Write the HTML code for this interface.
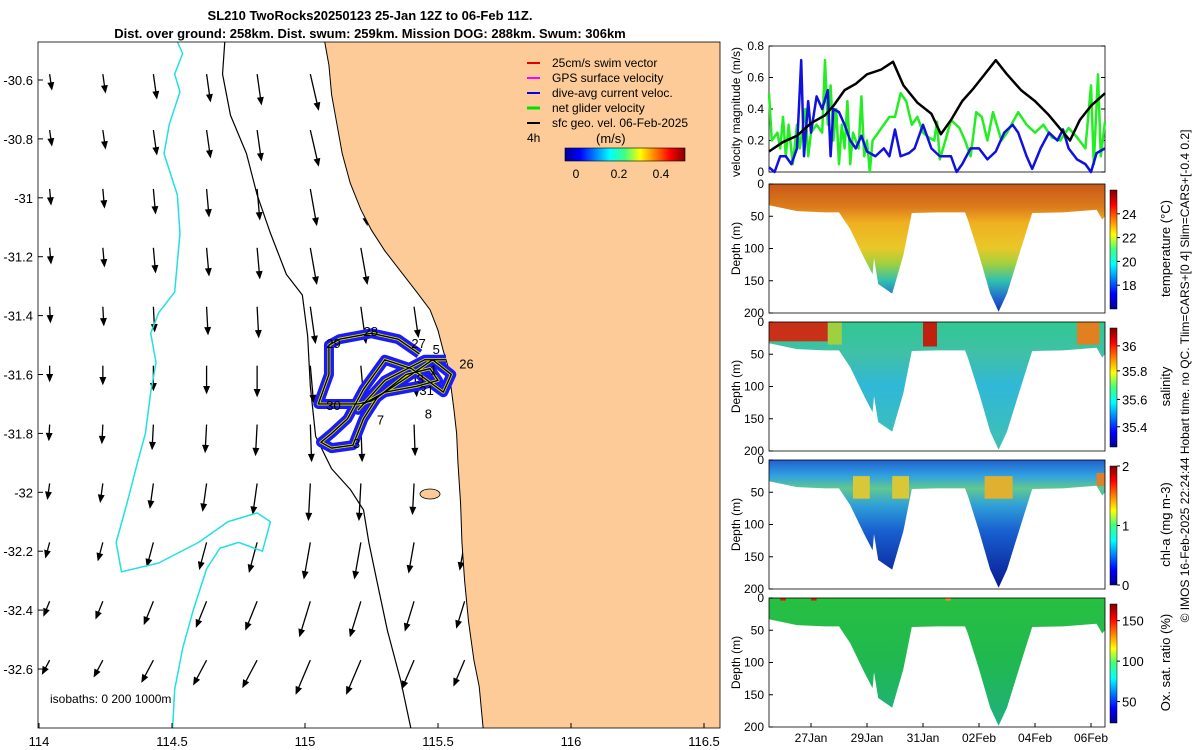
<!DOCTYPE html>
<html><head><meta charset="utf-8"><style>
html,body{margin:0;padding:0;background:#fff;}
svg{display:block;font-family:"Liberation Sans","DejaVu Sans",sans-serif;}
</style></head><body>
<svg id="fig" width="1200" height="750" viewBox="0 0 1200 750" xmlns="http://www.w3.org/2000/svg">
<defs>
<linearGradient id="gT" x1="0" y1="0" x2="0" y2="1"><stop offset="0" stop-color="#c85818"/><stop offset="0.18" stop-color="#dc7c1c"/><stop offset="0.3" stop-color="#f0b020"/><stop offset="0.5" stop-color="#e8c828"/><stop offset="0.62" stop-color="#a0d040"/><stop offset="0.75" stop-color="#30c0b0"/><stop offset="0.9" stop-color="#2060d0"/><stop offset="1" stop-color="#1030a0"/></linearGradient>
<linearGradient id="gS" x1="0" y1="0" x2="0" y2="1"><stop offset="0" stop-color="#30c890"/><stop offset="0.25" stop-color="#40c0a8"/><stop offset="0.5" stop-color="#30b8d8"/><stop offset="1" stop-color="#40c0b0"/></linearGradient>
<linearGradient id="gC" x1="0" y1="0" x2="0" y2="1"><stop offset="0" stop-color="#2060d0"/><stop offset="0.12" stop-color="#30a0e0"/><stop offset="0.22" stop-color="#60c890"/><stop offset="0.35" stop-color="#30a0d8"/><stop offset="0.55" stop-color="#1860d0"/><stop offset="1" stop-color="#081890"/></linearGradient>
<linearGradient id="gO" x1="0" y1="0" x2="0" y2="1"><stop offset="0" stop-color="#28c040"/><stop offset="0.5" stop-color="#20b850"/><stop offset="1" stop-color="#20b080"/></linearGradient>
<linearGradient id="jet" x1="0" y1="1" x2="0" y2="0"><stop offset="0" stop-color="#00008f"/><stop offset="0.125" stop-color="#0000ff"/><stop offset="0.375" stop-color="#00ffff"/><stop offset="0.5" stop-color="#40ff80"/><stop offset="0.625" stop-color="#ffff00"/><stop offset="0.875" stop-color="#ff0000"/><stop offset="1" stop-color="#800000"/></linearGradient>
<linearGradient id="jetH" x1="0" y1="0" x2="1" y2="0"><stop offset="0" stop-color="#00008f"/><stop offset="0.125" stop-color="#0000ff"/><stop offset="0.375" stop-color="#00ffff"/><stop offset="0.5" stop-color="#40ff80"/><stop offset="0.625" stop-color="#ffff00"/><stop offset="0.875" stop-color="#ff0000"/><stop offset="1" stop-color="#800000"/></linearGradient>
<clipPath id="mapClip"><rect x="38" y="42" width="682" height="686"/></clipPath>
</defs>

<text x="370" y="20" text-anchor="middle" font-size="13" font-weight="bold">SL210 TwoRocks20250123 25-Jan 12Z to 06-Feb 11Z.</text>
<text x="370" y="38" text-anchor="middle" font-size="13" font-weight="bold">Dist. over ground: 258km. Dist. swum: 259km. Mission DOG: 288km. Swum: 306km</text>

<g id="map" clip-path="url(#mapClip)"></g>
<rect x="38" y="42" width="682" height="686" fill="none" stroke="#000" stroke-width="0.8"/>
<g id="mapAxes"></g>

<g id="legend" font-size="12">
<line x1="527" y1="63" x2="540" y2="63" stroke="#e00000" stroke-width="2"/><text x="552" y="67">25cm/s swim vector</text>
<line x1="527" y1="78" x2="540" y2="78" stroke="#ff00ff" stroke-width="2"/><text x="552" y="82">GPS surface velocity</text>
<line x1="527" y1="93" x2="540" y2="93" stroke="#0000ff" stroke-width="2"/><text x="552" y="97">dive-avg current veloc.</text>
<line x1="527" y1="108" x2="540" y2="108" stroke="#00e000" stroke-width="3"/><text x="552" y="112">net glider velocity</text>
<line x1="527" y1="123" x2="540" y2="123" stroke="#000" stroke-width="2"/><text x="552" y="127">sfc geo. vel. 06-Feb-2025</text>
<text x="527" y="142">4h</text>
<text x="596" y="143" font-size="13">(m/s)</text>
<rect x="565" y="148" width="120" height="13" fill="url(#jetH)" stroke="#000" stroke-width="0.6"/>
<text x="576" y="178" text-anchor="middle">0</text><text x="619" y="178" text-anchor="middle">0.2</text><text x="661" y="178" text-anchor="middle">0.4</text>
</g>
<text x="50" y="703" font-size="12">isobaths: 0   200   1000m</text>

<g id="vel"></g>
<g id="sections"></g>

<text transform="translate(1189,376) rotate(-90)" text-anchor="middle" font-size="12">© IMOS 16-Feb-2025 22:24:44 Hobart time. no QC. Tlim=CARS+[0 4] Slim=CARS+[-0.4 0.2]</text>
</svg>
<script>
const NS="http://www.w3.org/2000/svg";
function mk(tag,attrs,parent){const e=document.createElementNS(NS,tag);for(const k in attrs)e.setAttribute(k,attrs[k]);parent.appendChild(e);return e;}

// ---------- MAP DATA ----------
const lonTicks=[114,114.5,115,115.5,116,116.5];
const latTicks=[-30.6,-30.8,-31,-31.2,-31.4,-31.6,-31.8,-32,-32.2,-32.4,-32.6];
const arrowLons=[114.04,114.24,114.43,114.63,114.82,115.02,115.21,115.41,115.6,115.8,115.99,116.19,116.38];
const arrowLats=[-30.58,-30.77,-30.97,-31.17,-31.37,-31.57,-31.77,-31.97,-32.17,-32.37,-32.57];
const colSpeed=[0.1,0.12,0.16,0.18,0.2,0.24,0.24,0.2,0.18,0.18,0.18,0.18,0.18];
const rowDir=[-8,-8,-5,-5,-3,0,3,8,15,22,28];
const trackNums=["29","28","27","5","26","1","3","31","8","7","30","3"];
const trackNumLon=[115.08,115.22,115.4,115.48,115.58,115.47,115.42,115.43,115.45,115.27,115.08,115.18];
const trackNumLat=[-31.51,-31.47,-31.51,-31.53,-31.58,-31.6,-31.63,-31.67,-31.75,-31.77,-31.72,-31.85];
const trackLon=[115.43,115.35,115.25,115.13,115.09,115.09,115.05,115.12,115.2,115.25,115.4,115.48,115.55,115.52,115.4,115.3,115.22,115.16,115.1,115.06,115.1,115.18,115.22,115.27,115.38,115.47,115.5,115.42,115.3,115.22,115.2,115.3,115.45,115.53];
const trackLat=[-31.53,-31.48,-31.46,-31.48,-31.5,-31.6,-31.7,-31.7,-31.7,-31.69,-31.6,-31.55,-31.6,-31.66,-31.58,-31.55,-31.65,-31.75,-31.8,-31.83,-31.85,-31.84,-31.75,-31.68,-31.6,-31.58,-31.62,-31.64,-31.66,-31.7,-31.72,-31.62,-31.55,-31.55];
const coastLon=[115.07,115.09,115.1,115.12,115.14,115.17,115.21,115.25,115.3,115.36,115.42,115.47,115.5,115.52,115.54,115.55,115.56,115.57,115.575,115.585,115.59,115.6,115.615,115.635,115.655,115.68];
const coastLat=[-30.45,-30.55,-30.65,-30.75,-30.85,-30.95,-31.04,-31.11,-31.18,-31.25,-31.32,-31.38,-31.45,-31.52,-31.58,-31.65,-31.72,-31.8,-31.9,-32.04,-32.17,-32.3,-32.44,-32.57,-32.66,-32.9];
const iso200Lon=[114.7,114.69,114.72,114.78,114.82,114.87,114.93,114.99,115.01,115.02,115.04,115.1,115.17,115.22,115.24,115.27,115.31,115.36,115.4,115.42];
const iso200Lat=[-30.45,-30.58,-30.72,-30.85,-30.99,-31.12,-31.26,-31.33,-31.47,-31.64,-31.81,-31.92,-31.99,-32.06,-32.17,-32.3,-32.47,-32.64,-32.81,-32.84];
const iso1000Lon=[114.51,114.54,114.51,114.53,114.49,114.47,114.52,114.53,114.52,114.51,114.45,114.42,114.44,114.42,114.4,114.37,114.33,114.29,114.31,114.45,114.6,114.71,114.82,114.87,114.84,114.75,114.68,114.63,114.58,114.54,114.51,114.5];
const iso1000Lat=[-30.45,-30.51,-30.58,-30.64,-30.75,-30.85,-30.99,-31.12,-31.22,-31.32,-31.39,-31.46,-31.56,-31.66,-31.8,-31.9,-32.04,-32.17,-32.27,-32.24,-32.17,-32.1,-32.07,-32.1,-32.2,-32.17,-32.19,-32.26,-32.4,-32.53,-32.67,-32.84];

const mx=lon=>39+(lon-114)*266;
const my=lat=>80+(-30.6-lat)*294.5;

const map=document.getElementById('map');
const sea=mk('rect',{x:38,y:42,width:682,height:686,fill:'#fff'},map);


const ag=mk('g',{stroke:'#000','stroke-width':1.3,fill:'#000'},map);


arrowLats.forEach((la,r)=>{arrowLons.forEach((lo,c)=>{
  const x=mx(lo),y=my(la);const L=colSpeed[c]*150;const a=(rowDir[r]+(c>4?-5:0))*Math.PI/180;
  const dx=-Math.sin(a)*L,dy=Math.cos(a)*L;
  const ar=mk('line',{x1:x,y1:y,x2:x+dx,y2:y+dy},ag);
  
  
  const ux=dx/L,uy=dy/L,hx=x+dx,hy=y+dy;
  mk('polygon',{points:`${hx},${hy} ${hx-ux*6-uy*2.5},${hy-uy*6+ux*2.5} ${hx-ux*6+uy*2.5},${hy-uy*6-ux*2.5}`},ag);
});});
function line(lons,lats,stroke,w,name){const p=mk('polyline',{points:lons.map((l,i)=>mx(l)+','+my(lats[i])).join(' '),fill:'none',stroke:stroke,'stroke-width':w,'stroke-linejoin':'round'},map);return p;}
line(iso1000Lon,iso1000Lat,'#22e0e0',1.5,'isobath-1000m');
line(iso200Lon,iso200Lat,'#000',1.2,'isobath-200m');
const landPts=coastLon.map((l,i)=>mx(l)+','+my(coastLat[i])).join(' ')+' 730,760 730,30';
const land=mk('polygon',{points:landPts,fill:'#fccb98',stroke:'#000','stroke-width':1},map);


const isl=mk('ellipse',{cx:430,cy:494,rx:10,ry:5,fill:'#fccb98',stroke:'#000','stroke-width':0.8},map);


line(trackLon,trackLat,'#1a1aff',10,'dive-avg-current-track');
line(trackLon,trackLat,'#ffd000',3,'swim-track');
line(trackLon,trackLat,'#00d000',1.5,'net-velocity-track');
line(trackLon,trackLat,'#000',1.2,'glider-track');
trackNums.forEach((t,i)=>{const e=mk('text',{x:mx(trackNumLon[i]),y:my(trackNumLat[i]),'font-size':13},map);e.textContent=t;

});

const ma=document.getElementById('mapAxes');
lonTicks.forEach(v=>{const x=mx(v);mk('line',{x1:x,y1:728,x2:x,y2:723,stroke:'#000'},ma);const t=mk('text',{x:x,y:746,'text-anchor':'middle','font-size':13},ma);t.textContent=v;

});
latTicks.forEach(v=>{const y=my(v);mk('line',{x1:38,y1:y,x2:43,y2:y,stroke:'#000'},ma);const t=mk('text',{x:33,y:y+5,'text-anchor':'end','font-size':13},ma);t.textContent=v;

});

// ---------- VELOCITY DATA ----------
const dateTickDays=[27,29,31,33,35,37];
const dateTickLabels=["27Jan","29Jan","31Jan","02Feb","04Feb","06Feb"];
const velTicks=[0,0.2,0.4,0.6,0.8];
const geoT=[25.5,26,26.5,27,27.5,27.8,28.2,28.6,29,29.5,29.93,30.3,30.8,31.3,31.64,32,32.4,32.8,33.2,33.6,34,34.5,35,35.5,36.25,36.6,37,37.5];
const geoV=[0.13,0.19,0.23,0.31,0.36,0.42,0.52,0.56,0.62,0.65,0.70,0.55,0.44,0.37,0.24,0.33,0.45,0.53,0.62,0.71,0.62,0.52,0.45,0.36,0.2,0.33,0.42,0.5];
const netT=[25.5,25.6,25.8,25.9,26,26.1,26.2,26.35,26.5,26.6,26.8,26.9,27,27.2,27.4,27.5,27.6,27.7,27.8,27.9,28,28.1,28.2,28.3,28.4,28.5,28.7,28.8,28.9,29,29.1,29.2,29.4,29.6,29.8,30,30.2,30.4,30.6,30.8,31,31.2,31.4,31.5,31.6,31.8,32,32.3,32.5,32.7,32.9,33.1,33.3,33.5,33.8,34,34.4,34.7,35,35.3,35.6,35.9,36.2,36.5,36.8,37,37.1,37.25,37.35,37.5];
const netV=[0.5,0.2,0.25,0.15,0.35,0.1,0.3,0.05,0.3,0.15,0.4,0.1,0.25,0.3,0.25,0.71,0.3,0.55,0.2,0.4,0.05,0.3,0.15,0.45,0.05,0.25,0.15,0.48,0.1,0.2,0.0,0.2,0.25,0.3,0.35,0.35,0.5,0.45,0.3,0.35,0.25,0.22,0.2,0.32,0.08,0.2,0.33,0.28,0.2,0.1,0.38,0.35,0.2,0.38,0.2,0.25,0.38,0.3,0.25,0.3,0.22,0.2,0.28,0.22,0.15,0.55,0.05,0.62,0.1,0.32];
const curT=[25.5,25.7,25.9,26.1,26.3,26.5,26.65,26.75,26.9,27,27.2,27.4,27.6,27.7,27.8,28,28.2,28.4,28.6,28.8,29,29.3,29.6,29.8,30,30.2,30.5,30.7,30.9,31,31.3,31.6,32,32.2,32.4,32.7,33,33.3,33.6,33.9,34.2,34.4,34.7,34.9,35.2,35.5,35.8,36,36.2,36.5,36.8,37,37.2,37.5];
const curV=[0.03,0.0,0.1,0.1,0.05,0.15,0.71,0.1,0.45,0.25,0.48,0.4,0.52,0.1,0.4,0.38,0.3,0.2,0.15,0.23,0.13,0.1,0.15,0.1,0.27,0.1,0.12,0.15,0.25,0.3,0.15,0.1,0.1,0.0,0.05,0.15,0.15,0.08,0.13,0.25,0.3,0.25,0.1,0.02,0.15,0.25,0.2,0.27,0.15,0.08,0.05,0.0,0.12,0.15];

const T0=25.5,T1=37.5,PX0=769,PX1=1105;
const tx=t=>PX0+(t-T0)/(T1-T0)*(PX1-PX0);
const vel=document.getElementById('vel');
const VY0=172,VY1=46;const vy=v=>VY0+(v/0.8)*(VY1-VY0);
mk('rect',{x:PX0,y:VY1,width:PX1-PX0,height:VY0-VY1,fill:'#fff',stroke:'#000','stroke-width':0.8},vel);
velTicks.forEach(v=>{const y=vy(v);mk('line',{x1:PX0,y1:y,x2:PX0+4,y2:y,stroke:'#000'},vel);mk('line',{x1:PX1,y1:y,x2:PX1-4,y2:y,stroke:'#000'},vel);
const t=mk('text',{x:764,y:y+4,'text-anchor':'end','font-size':12},vel);t.textContent=v;

});
function series(T,V,color,w,name){const p=mk('polyline',{points:T.map((t,i)=>tx(t)+','+vy(V[i])).join(' '),fill:'none',stroke:color,'stroke-width':w,'stroke-linejoin':'round'},vel);}
series(netT,netV,'#22ee22',2.5,'net-glider-velocity-line');
series(curT,curV,'#1010e0',2.5,'dive-avg-current-line');
series(geoT,geoV,'#000',2.5,'geostrophic-velocity-line');
const vl=mk('text',{transform:'translate(740,112) rotate(-90)','text-anchor':'middle','font-size':12},vel);vl.textContent='velocity magnitude (m/s)';



// ---------- SECTIONS ----------
const profT=[25.5,26.5,27.5,28.0,28.4,28.9,29.2,29.25,29.4,29.9,30.3,30.6,31.5,32.5,32.6,33.0,33.4,33.7,34.0,34.5,34.9,36.0,37.2,37.4,37.5];
const profD=[33,42,44,44,70,115,140,115,155,170,110,45,44,44,55,110,170,198,170,100,45,44,40,55,50];
const depthTicks=[0,50,100,150,200];
const panelTops=[184,322,460,598];
const panelNames=['temperature','salinity','chlorophyll','oxygen'];
const panelGrads=['gT','gS','gC','gO'];
const cbLabels=[["24","22","20","18"],["36","35.8","35.6","35.4"],["2","1","0"],["150","100","50"]];
const cbFrac=[[0.2,0.4,0.6,0.8],[0.15,0.36,0.6,0.83],[0.0,0.5,1.0],[0.14,0.48,0.82]];
const cbTitles=['temperature (°C)','salinity','chl-a (mg m-3)','Ox. sat. ratio (%)'];
// patches [panel, tStart, tEnd, dTop, dBottom, color]
const patchPanel=[1,1,1,1,2,2,2,2,3,3,3];
const patchT0=[25.5,27.6,31.0,36.5,28.5,29.9,33.2,37.2,25.9,27.0,31.8];
const patchT1=[27.6,28.1,31.5,37.3,29.1,30.5,34.2,37.5,26.1,27.2,32.0];
const patchTopD=[0,0,0,0,25,25,25,20,0,0,0];
const patchD=[30,35,38,35,60,60,60,40,4,4,4];
const patchC=['#c83018','#a0d040','#c02010','#e08020','#d8c838','#d8c838','#e0b030','#e08028','#d02010','#d02010','#f09020'];

const sec=document.getElementById('sections');
const H=129;
panelTops.forEach((top,k)=>{
  const g=mk('g',{},sec);
  
  
  const dy=d=>top+d/200*H;
  const cid='clip'+k;
  const cp=mk('clipPath',{id:cid},g);
  mk('polygon',{points:tx(T0)+','+dy(0)+' '+profT.map((t,i)=>tx(t)+','+dy(profD[i])).join(' ')+' '+tx(T1)+','+dy(0)},cp);
  const inner=mk('g',{'clip-path':`url(#${cid})`},g);
  mk('rect',{x:PX0,y:top,width:PX1-PX0,height:H,fill:`url(#${panelGrads[k]})`},inner);
  patchPanel.forEach((p,i)=>{if(p===k){mk('rect',{x:tx(patchT0[i]),y:dy(patchTopD[i]),width:tx(patchT1[i])-tx(patchT0[i]),height:(patchD[i]-patchTopD[i])/200*H,fill:patchC[i]},inner);}});
  mk('rect',{x:PX0,y:top,width:PX1-PX0,height:H,fill:'none',stroke:'#000','stroke-width':0.8},g);
  depthTicks.forEach(d=>{const y=dy(d);mk('line',{x1:PX0,y1:y,x2:PX0+4,y2:y,stroke:'#000'},g);
    const t=mk('text',{x:764,y:y+4,'text-anchor':'end','font-size':12},g);t.textContent=d;
    
    });
  const yl=mk('text',{transform:`translate(740,${top+H/2}) rotate(-90)`,'text-anchor':'middle','font-size':12},g);yl.textContent='Depth (m)';
  
  
  const cbTop=top+6,cbH=H-10;
  const cb=mk('rect',{x:1110,y:cbTop,width:7,height:cbH,fill:'url(#jet)',stroke:'#000','stroke-width':0.5},g);
  
  
  cbLabels[k].forEach((l,i)=>{const y=cbTop+cbFrac[k][i]*cbH;mk('line',{x1:1117,y1:y,x2:1120,y2:y,stroke:'#000'},g);
    const t=mk('text',{x:1122,y:y+5,'font-size':13},g);t.textContent=l;
    
    });
  const ct=mk('text',{transform:`translate(1170,${top+H/2}) rotate(-90)`,'text-anchor':'middle','font-size':13},g);ct.textContent=cbTitles[k];
  
  
});
dateTickDays.forEach((d,i)=>{const x=tx(d);
  mk('line',{x1:x,y1:727,x2:x,y2:723,stroke:'#000'},sec);
  const t=mk('text',{x:x,y:742,'text-anchor':'middle','font-size':12},sec);t.textContent=dateTickLabels[i];
  
  });
</script>
</body></html>
